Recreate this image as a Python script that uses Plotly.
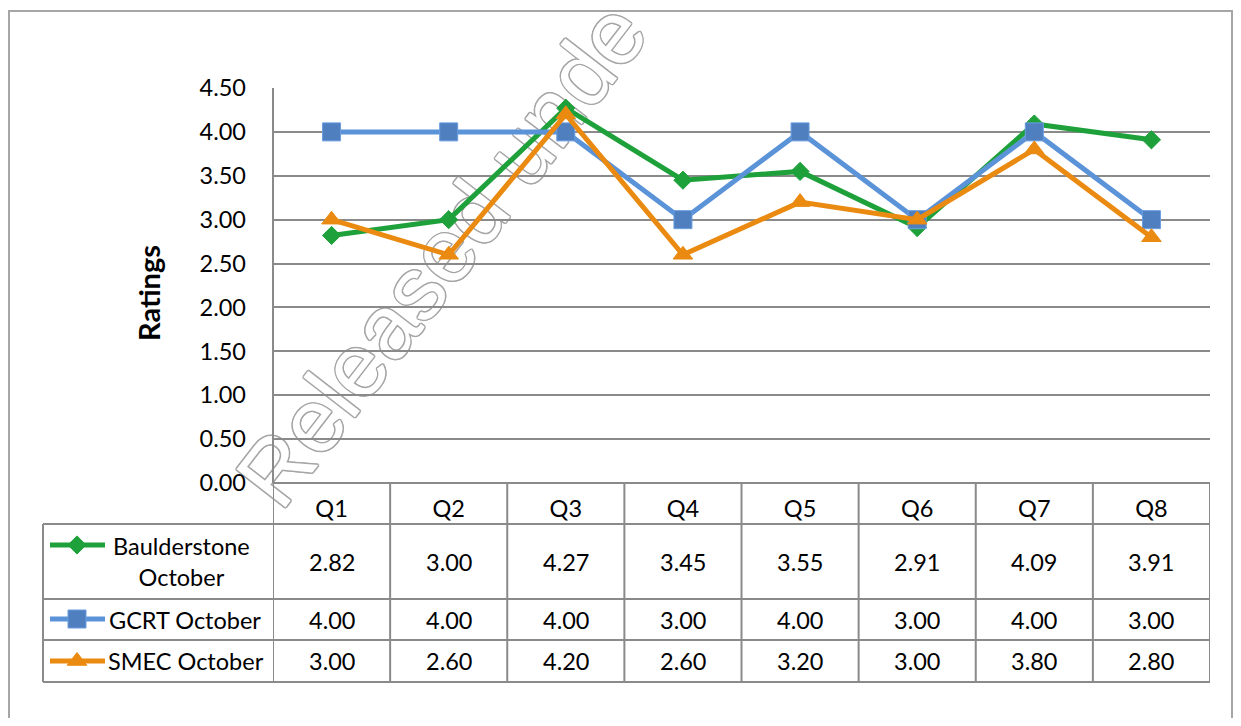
import plotly.graph_objects as go

categories = ["Q1", "Q2", "Q3", "Q4", "Q5", "Q6", "Q7", "Q8"]
baulderstone = [2.82, 3.00, 4.27, 3.45, 3.55, 2.91, 4.09, 3.91]
gcrt = [4.00, 4.00, 4.00, 3.00, 4.00, 3.00, 4.00, 3.00]
smec = [3.00, 2.60, 4.20, 2.60, 3.20, 3.00, 3.80, 2.80]
series_names = ["Baulderstone<br>October", "GCRT October", "SMEC October"]
y_ticks = [0, 0.5, 1.0, 1.5, 2.0, 2.5, 3.0, 3.5, 4.0, 4.5]

# page geometry (autosized figure sits inside the body margin)
OX, OY, PW, PH = 8, 8, 1225, 710
FONT = "Lato, Calibri, sans-serif"
GRID = "#8a8a8a"
FS = 23.5


def fx(x):
    return (x - OX) / PW


def fy(y):
    return 1 - (y - OY) / PH


styles = [
    dict(color="#1ea13a", symbol="diamond", size=14, mfill="#1ea13a", mline="#1ea13a"),
    dict(color="#5b93d8", symbol="square", size=18, mfill="#4f7fbf", mline="#6a9de0"),
    dict(color="#ea8a10", symbol="triangle-up", size=17, mfill="#ea8a10", mline="#ea8a10"),
]
data = [baulderstone, gcrt, smec]

X0, X1 = 273, 1210
Y0, Y1 = 88, 483
row_edges = [483, 524, 599, 640, 682]
LEFT = 43

fig = go.Figure()
for vals, name, st in zip(data, series_names, styles):
    fig.add_trace(go.Scatter(
        x=categories, y=vals, mode="lines+markers", name=name.replace("<br>", " "),
        line=dict(color=st["color"], width=5),
        marker=dict(symbol=st["symbol"], size=st["size"], color=st["mfill"],
                    line=dict(color=st["mline"], width=1)),
        showlegend=False, cliponaxis=False, xaxis="x", yaxis="y",
    ))

# legend keys drawn inside the data table (pixel overlay axes)
key_y = [545, 619, 661]
for st, ky in zip(styles, key_y):
    fig.add_trace(go.Scatter(
        x=[50, 77, 105], y=[ky, ky, ky], mode="lines",
        line=dict(color=st["color"], width=5), showlegend=False,
        xaxis="x2", yaxis="y2", hoverinfo="skip",
    ))
    fig.add_trace(go.Scatter(
        x=[77], y=[ky], mode="markers",
        marker=dict(symbol=st["symbol"], size=st["size"], color=st["mfill"],
                    line=dict(color=st["mline"], width=1)),
        showlegend=False, xaxis="x2", yaxis="y2", hoverinfo="skip",
    ))

shapes = []
# watermark (hollow text drawn under the chart)
shade = "#a6a6a6"
sh = ", ".join(f"{a}px {b}px 0 {shade}" for a, b in
               [(1.5, 0), (-1.5, 0), (0, 1.5), (0, -1.5), (1, 1), (-1, -1), (1, -1), (-1, 1)])
shapes.append(dict(type="line", xref="paper", yref="paper", layer="below",
                   x0=fx(256), y0=fy(480), x1=fx(613), y1=fy(18),
                   line=dict(width=0, color="rgba(0,0,0,0)"),
                   label=dict(text="Released unde", textposition="middle", textangle=-52.3,
                              xanchor="center", yanchor="middle",
                              font=dict(family="Liberation Sans, Arial", size=90,
                                        color="#ffffff", shadow=sh))))
# outer chart border
shapes.append(dict(type="rect", xref="paper", yref="paper", x0=fx(9), x1=fx(1232),
                   y0=fy(760), y1=fy(11), line=dict(color="#a6a6a6", width=2)))
# table horizontal lines
for i, ry in enumerate(row_edges):
    x_start = X0 if i == 0 else LEFT
    shapes.append(dict(type="line", xref="paper", yref="paper", x0=fx(x_start), x1=fx(X1),
                       y0=fy(ry), y1=fy(ry), line=dict(color=GRID, width=2)))
# table vertical lines (category boundaries)
for i in range(len(categories) + 1):
    shapes.append(dict(type="line", xref="x", yref="paper", x0=i - 0.5, x1=i - 0.5,
                       y0=fy(row_edges[0]), y1=fy(row_edges[-1]), line=dict(color=GRID, width=2)))
shapes.append(dict(type="line", xref="paper", yref="paper", x0=fx(LEFT), x1=fx(LEFT),
                   y0=fy(row_edges[1]), y1=fy(row_edges[-1]), line=dict(color=GRID, width=2)))
# vertical value axis line
shapes.append(dict(type="line", xref="paper", yref="paper", x0=fx(X0), x1=fx(X0),
                   y0=fy(Y0), y1=fy(Y1), line=dict(color=GRID, width=2)))

annotations = []
for r, vals in enumerate(data):
    cy = (row_edges[r + 1] + row_edges[r + 2]) / 2
    for i, v in enumerate(vals):
        annotations.append(dict(x=categories[i], y=fy(cy), xref="x", yref="paper",
                                xanchor="center", yanchor="middle",
                                text=f"{v:.2f}", showarrow=False,
                                font=dict(family=FONT, size=FS, color="#000000")))
name_x = [181, 185, 186]
for r, name in enumerate(series_names):
    cy = (row_edges[r + 1] + row_edges[r + 2]) / 2
    annotations.append(dict(x=fx(name_x[r]), y=fy(cy), xref="paper", yref="paper",
                            xanchor="center", yanchor="middle",
                            text=name, showarrow=False, align="center",
                            font=dict(family=FONT, size=FS, color="#000000")))
annotations.append(dict(x=fx(148), y=fy(293), xref="paper", yref="paper", text="<b>Ratings</b>",
                        xanchor="center", yanchor="middle",
                        textangle=-90, showarrow=False,
                        font=dict(family=FONT, size=29, color="#000000")))

fig.update_layout(
    autosize=True,
    margin=dict(l=0, r=0, t=0, b=0, autoexpand=False),
    paper_bgcolor="white", plot_bgcolor="rgba(0,0,0,0)",
    xaxis=dict(domain=[fx(X0), fx(X1)], type="category", range=[-0.5, 7.5],
               categoryorder="array", categoryarray=categories, automargin=False,
               showgrid=False, zeroline=False, showline=False, ticks="",
               ticklabelstandoff=9, tickfont=dict(family=FONT, size=FS, color="#000000"),
               anchor="y"),
    yaxis=dict(domain=[fy(Y1), fy(Y0)], range=[0, 4.5], tickvals=y_ticks,
               ticktext=[f"{t:.2f}" for t in y_ticks], automargin=False,
               showgrid=True, gridcolor=GRID, gridwidth=2, zeroline=False, showline=False,
               ticks="", ticklabelstandoff=26, tickfont=dict(family=FONT, size=FS, color="#000000"),
               anchor="x"),
    xaxis2=dict(domain=[0, 1], range=[OX, OX + PW], visible=False, anchor="y2", automargin=False),
    yaxis2=dict(domain=[0, 1], range=[OY + PH, OY], visible=False, anchor="x2", automargin=False),
    shapes=shapes,
    annotations=annotations,
)

fig.write_html("out.html")
